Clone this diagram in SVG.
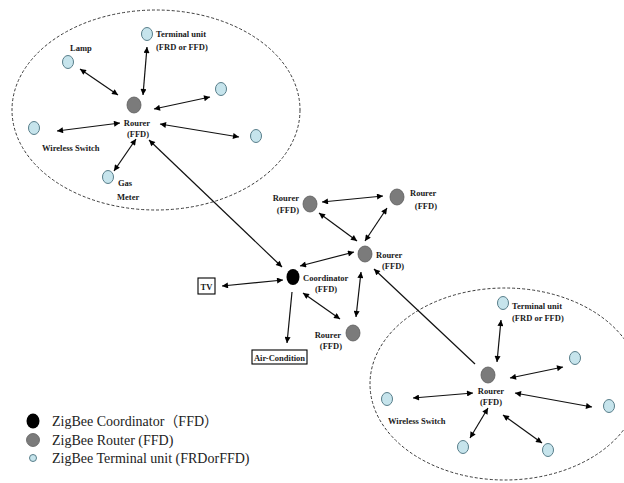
<svg xmlns="http://www.w3.org/2000/svg" width="624" height="483" viewBox="0 0 624 483">
  <style>
    .zone { fill: none; stroke: #3a3a3a; stroke-width: 1; stroke-dasharray: 3 2; }
    .router { fill: #7b7b7b; stroke: #5e5e5e; stroke-width: 0.8; }
    .coord { fill: #000; }
    .term { fill: #c6e4ec; stroke: #587e8a; stroke-width: 1; }
    .lbl { font-family: "Liberation Serif", "Times New Roman", serif; font-weight: bold; font-size: 8.5px; fill: #1a1a1a; }
    .mid { text-anchor: middle; }
    .end { text-anchor: end; }
    .box { fill: #fff; stroke: #000; stroke-width: 1.1; }
    .link { stroke: #111; stroke-width: 1.2; fill: none; }
    .both { marker-start: url(#tip); marker-end: url(#tip); }
    .one { marker-end: url(#tip); }
    .legend { font-family: "Liberation Serif", "Times New Roman", "Noto Sans CJK SC", serif; font-size: 14px; fill: #222; }
  </style>
  <defs>
    <marker id="tip" viewBox="0 0 10 10" refX="10" refY="5" markerUnits="userSpaceOnUse" markerWidth="8" markerHeight="6" orient="auto-start-reverse">
      <path d="M0,0 L10,5 L0,10 z" fill="#000"/>
    </marker>
  </defs>

  <rect width="624" height="483" fill="#fff"/>

  <!-- network zones -->
  <g id="zones">
    <ellipse class="zone" cx="156" cy="110" rx="144" ry="100"/>
    <ellipse class="zone" cx="505" cy="384" rx="135" ry="96"/>
  </g>

  <!-- links -->
  <g id="connectors">
    <!-- upper zone -->
    <line class="link both" x1="80" y1="69" x2="118" y2="95"/>
    <line class="link both" x1="147" y1="47" x2="143" y2="95"/>
    <line class="link both" x1="154" y1="109" x2="210" y2="97"/>
    <line class="link both" x1="160" y1="124" x2="239" y2="137"/>
    <line class="link both" x1="57" y1="131" x2="120" y2="123"/>
    <line class="link both" x1="136" y1="139" x2="114" y2="171"/>
    <line class="link both" x1="149" y1="140" x2="282" y2="267"/>
    <!-- central mesh -->
    <line class="link both" x1="322" y1="202" x2="383" y2="196"/>
    <line class="link both" x1="319" y1="213" x2="357" y2="241"/>
    <line class="link both" x1="387" y1="208" x2="365" y2="241"/>
    <line class="link both" x1="354" y1="252" x2="300" y2="266"/>
    <line class="link both" x1="303" y1="293" x2="340" y2="319"/>
    <line class="link both" x1="361" y1="272" x2="356" y2="317"/>
    <line class="link one" x1="292" y1="292" x2="287" y2="343"/>
    <line class="link both" x1="222" y1="286" x2="283" y2="280"/>
    <line class="link one" x1="475" y1="364" x2="374" y2="269"/>
    <!-- lower zone -->
    <line class="link both" x1="501" y1="320" x2="497" y2="362"/>
    <line class="link both" x1="510" y1="378" x2="563" y2="367"/>
    <line class="link both" x1="515" y1="393" x2="592" y2="407"/>
    <line class="link both" x1="413" y1="398" x2="473" y2="393"/>
    <line class="link both" x1="488" y1="408" x2="470" y2="438"/>
    <line class="link both" x1="503" y1="415" x2="542" y2="443"/>
  </g>

  <!-- upper zone nodes -->
  <g id="router-upper">
    <ellipse class="router" cx="134" cy="105" rx="7" ry="8"/>
    <text class="lbl mid" x="137" y="126">Rourer</text>
    <text class="lbl mid" x="138" y="137">(FFD)</text>
  </g>
  <g id="lamp">
    <ellipse class="term" cx="68" cy="62" rx="5.5" ry="6.5"/>
    <text class="lbl" x="70" y="51">Lamp</text>
  </g>
  <g id="terminal-upper">
    <ellipse class="term" cx="147" cy="34" rx="5.5" ry="6.5"/>
    <text class="lbl" x="156" y="37">Terminal unit</text>
    <text class="lbl" x="156" y="50">(FRD or FFD)</text>
  </g>
  <g id="node-upper-r1">
    <ellipse class="term" cx="221" cy="89" rx="5.5" ry="6.5"/>
  </g>
  <g id="node-upper-r2">
    <ellipse class="term" cx="256" cy="136" rx="5.5" ry="6.5"/>
  </g>
  <g id="switch-upper">
    <ellipse class="term" cx="34" cy="128" rx="5.5" ry="6.5"/>
    <text class="lbl" x="42" y="151">Wireless Switch</text>
  </g>
  <g id="gas-meter">
    <ellipse class="term" cx="108" cy="177" rx="5.5" ry="6.5"/>
    <text class="lbl" x="118" y="186">Gas</text>
    <text class="lbl" x="117" y="200">Meter</text>
  </g>

  <!-- central nodes -->
  <g id="router-a">
    <ellipse class="router" cx="310" cy="204" rx="7" ry="8"/>
    <text class="lbl end" x="299" y="201">Rourer</text>
    <text class="lbl end" x="299" y="213">(FFD)</text>
  </g>
  <g id="router-b">
    <ellipse class="router" cx="397" cy="197" rx="7" ry="8"/>
    <text class="lbl" x="410" y="196">Rourer</text>
    <text class="lbl end" x="437" y="209">(FFD)</text>
  </g>
  <g id="router-c">
    <ellipse class="router" cx="365" cy="254" rx="7" ry="8"/>
    <text class="lbl" x="376" y="258">Rourer</text>
    <text class="lbl" x="382" y="269">(FFD)</text>
  </g>
  <g id="coordinator">
    <ellipse class="coord" cx="293" cy="277" rx="6.5" ry="8"/>
    <text class="lbl" x="303" y="281">Coordinator</text>
    <text class="lbl" x="315" y="292">(FFD)</text>
  </g>
  <g id="router-d">
    <ellipse class="router" cx="353" cy="333" rx="7" ry="8"/>
    <text class="lbl end" x="341" y="338">Rourer</text>
    <text class="lbl end" x="342" y="349">(FFD)</text>
  </g>
  <g id="tv">
    <rect class="box" x="198" y="278" width="17" height="16"/>
    <text class="lbl mid" x="206.5" y="290">TV</text>
  </g>
  <g id="air-condition">
    <rect class="box" x="252" y="350" width="55" height="14"/>
    <text class="lbl mid" x="279.5" y="361">Air-Condition</text>
  </g>

  <!-- lower zone nodes -->
  <g id="router-lower">
    <ellipse class="router" cx="488" cy="375" rx="7" ry="8"/>
    <text class="lbl mid" x="491" y="394">Rourer</text>
    <text class="lbl mid" x="491" y="405">(FFD)</text>
  </g>
  <g id="terminal-lower">
    <ellipse class="term" cx="503" cy="303" rx="5.5" ry="6.5"/>
    <text class="lbl" x="512" y="309">Terminal unit</text>
    <text class="lbl" x="512" y="321">(FRD or FFD)</text>
  </g>
  <g id="node-lower-r1">
    <ellipse class="term" cx="575" cy="358" rx="5.5" ry="6.5"/>
  </g>
  <g id="node-lower-r2">
    <ellipse class="term" cx="609" cy="406" rx="5.5" ry="6.5"/>
  </g>
  <g id="switch-lower">
    <ellipse class="term" cx="387" cy="399" rx="5.5" ry="6.5"/>
    <text class="lbl" x="388" y="424">Wireless Switch</text>
  </g>
  <g id="node-lower-b1">
    <ellipse class="term" cx="463" cy="447" rx="5.5" ry="6.5"/>
  </g>
  <g id="node-lower-b2">
    <ellipse class="term" cx="548" cy="450" rx="5.5" ry="6.5"/>
  </g>

  <!-- key -->
  <g id="legend">
    <ellipse class="coord" cx="33" cy="421" rx="6.5" ry="7.5"/>
    <text class="legend" x="52" y="426">ZigBee Coordinator（FFD）</text>
    <ellipse class="router" cx="33" cy="440" rx="6.5" ry="6.5"/>
    <text class="legend" x="52" y="445">ZigBee Router (FFD)</text>
    <circle class="term" cx="33" cy="458" r="3.5"/>
    <text class="legend" x="52" y="463">ZigBee Terminal unit (FRDorFFD)</text>
  </g>
</svg>
